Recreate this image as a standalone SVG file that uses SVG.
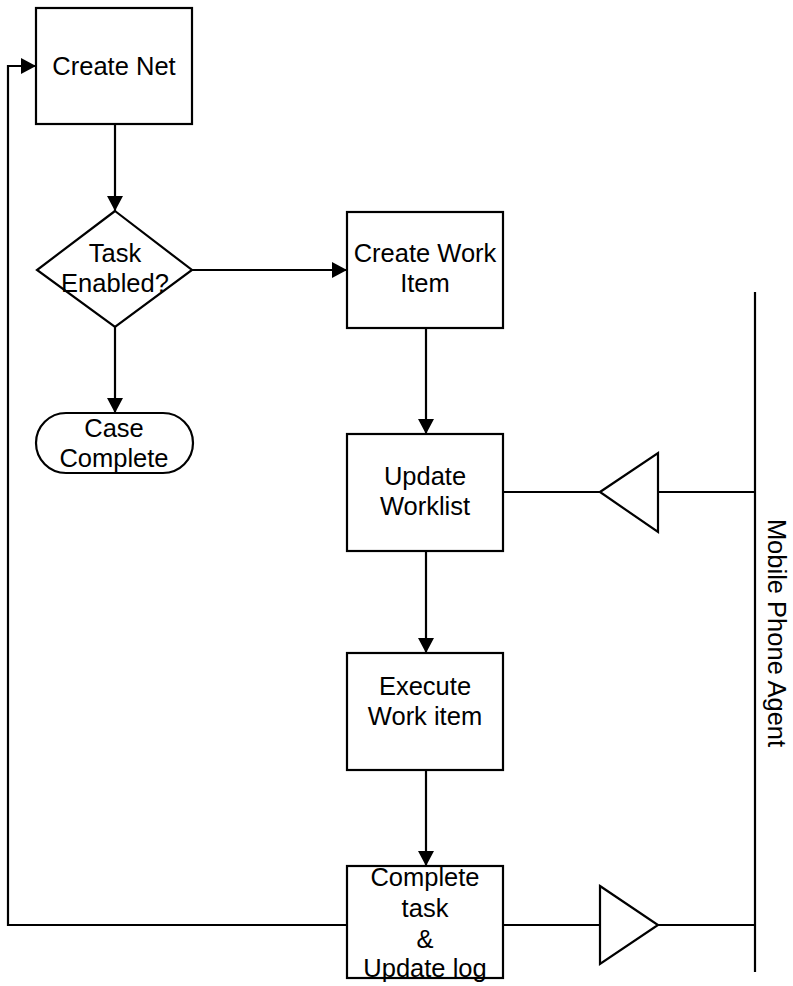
<svg xmlns="http://www.w3.org/2000/svg" width="793" height="986" viewBox="0 0 793 986">
  <style>
    .shape { fill: #ffffff; stroke: #000000; stroke-width: 2.2; }
    .wire { fill: none; stroke: #000000; stroke-width: 2.2; }
    .label { font-family: "Liberation Sans", Arial, sans-serif; font-size: 25.5px; fill: #000000; text-anchor: middle; }
  </style>
  <defs>
    <marker id="arrow" markerUnits="userSpaceOnUse" markerWidth="16" markerHeight="18" refX="15" refY="9" orient="auto">
      <path d="M0,1 L15,9 L0,17 Z" fill="#000000"/>
    </marker>
  </defs>
  <rect width="793" height="986" fill="#ffffff"/>

  <!-- connectors -->
  <g id="connectors">
    <path class="wire" d="M115,124 V211" marker-end="url(#arrow)"/>
    <path class="wire" d="M192,270 H347" marker-end="url(#arrow)"/>
    <path class="wire" d="M115,327 V413" marker-end="url(#arrow)"/>
    <path class="wire" d="M426,328 V434" marker-end="url(#arrow)"/>
    <path class="wire" d="M426,551 V653" marker-end="url(#arrow)"/>
    <path class="wire" d="M426,770 V866" marker-end="url(#arrow)"/>
    <!-- loop back from task completion to net creation -->
    <path class="wire" d="M347,925 H8 V66 H36" marker-end="url(#arrow)"/>
    <!-- links to the agent lane -->
    <path class="wire" d="M503,492 H600"/>
    <path class="wire" d="M658,492 H755"/>
    <path class="wire" d="M503,925 H600"/>
    <path class="wire" d="M658,925 H755"/>
  </g>

  <g id="create-net">
    <rect class="shape" x="36" y="8" width="156" height="116"/>
    <text class="label" x="114" y="75">Create Net</text>
  </g>

  <g id="task-enabled">
    <polygon class="shape" points="115,211 192,270 115,327 37,270"/>
    <text class="label" x="115" y="262">Task</text>
    <text class="label" x="115" y="292">Enabled?</text>
  </g>

  <g id="case-complete">
    <rect class="shape" x="36" y="413" width="157" height="60" rx="30" ry="30"/>
    <text class="label" x="114" y="437">Case</text>
    <text class="label" x="114" y="467">Complete</text>
  </g>

  <g id="create-work-item">
    <rect class="shape" x="347" y="212" width="156" height="116"/>
    <text class="label" x="425" y="262">Create Work</text>
    <text class="label" x="425" y="292">Item</text>
  </g>

  <g id="update-worklist">
    <rect class="shape" x="347" y="434" width="156" height="117"/>
    <text class="label" x="425" y="485">Update</text>
    <text class="label" x="425" y="515">Worklist</text>
  </g>

  <g id="execute-work-item">
    <rect class="shape" x="347" y="653" width="156" height="117"/>
    <text class="label" x="425" y="695">Execute</text>
    <text class="label" x="425" y="725">Work item</text>
  </g>

  <g id="complete-task">
    <rect class="shape" x="347" y="866" width="156" height="112"/>
    <text class="label" x="425" y="886">Complete</text>
    <text class="label" x="425" y="917">task</text>
    <text class="label" x="425" y="948">&amp;</text>
    <text class="label" x="425" y="977">Update log</text>
  </g>

  <g id="inbound-signal">
    <polygon class="shape" points="600,492 658,453 658,532"/>
  </g>

  <g id="outbound-signal">
    <polygon class="shape" points="600,886 658,925 600,964"/>
  </g>

  <g id="mobile-phone-agent">
    <line class="wire" x1="755" y1="292" x2="755" y2="972"/>
    <text class="label" transform="translate(768,633) rotate(90)">Mobile Phone Agent</text>
  </g>
</svg>
